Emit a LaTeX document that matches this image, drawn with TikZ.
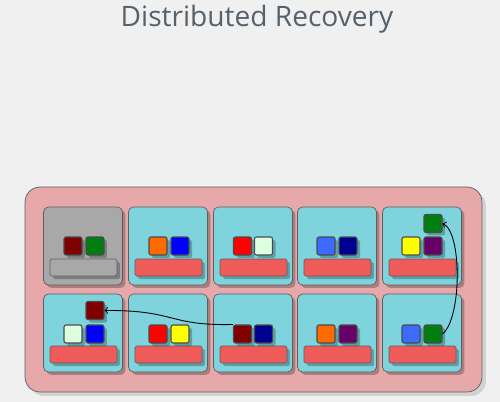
\documentclass[tikz,border=0pt]{standalone}
\usepackage{fontspec}
\setmainfont{Open Sans}
\usetikzlibrary{shadows}
\definecolor{pagebg}{HTML}{F0F0F0}
\definecolor{titlegray}{HTML}{56616B}
\definecolor{groupfill}{HTML}{E6A8A8}
\definecolor{cellfill}{HTML}{7FD3DC}
\definecolor{idlefill}{HTML}{A8A8A8}
\definecolor{barfill}{HTML}{EE5B58}
\definecolor{edgegray}{HTML}{5A5F63}
\definecolor{cDarkRed}{HTML}{800000}
\definecolor{cGreen}{HTML}{007F0E}
\definecolor{cOrange}{HTML}{FF6A00}
\definecolor{cBlue}{HTML}{0000FF}
\definecolor{cRed}{HTML}{FF0000}
\definecolor{cMint}{HTML}{DDFFDD}
\definecolor{cSky}{HTML}{3D6BFF}
\definecolor{cNavy}{HTML}{000090}
\definecolor{cYellow}{HTML}{FFFF00}
\definecolor{cPurple}{HTML}{660066}
\tikzset{
  softshadow/.style={drop shadow={shadow xshift=0.06cm, shadow yshift=-0.06cm, opacity=0.25, fill=black}},
  group/.style={draw=edgegray, fill=groupfill, rounded corners=0.3cm, minimum width=9.14cm, minimum height=4.1cm,
    drop shadow={shadow xshift=0.08cm, shadow yshift=-0.08cm, opacity=0.12, fill=black}},
  cell/.style={draw=edgegray, fill=cellfill, rounded corners=0.1cm, minimum width=1.58cm, minimum height=1.56cm, inner sep=0pt, softshadow},
  idle/.style={cell, fill=idlefill},
  bar/.style={draw=edgegray, fill=barfill, rounded corners=0.03cm, minimum width=1.34cm, minimum height=0.34cm, inner sep=0pt, softshadow},
  idlebar/.style={bar, fill=idlefill},
  sq/.style={draw=edgegray!80!black, fill=#1, rounded corners=0.04cm, minimum size=0.36cm, inner sep=0pt, line width=0.6pt, softshadow},
  move/.style={->, black, line width=0.5pt}
}
\begin{document}
\begin{tikzpicture}[x=0.02cm, y=-0.02cm]
  % page and title
  \fill[pagebg] (0,0) rectangle (500,402);
  \useasboundingbox (0,0) rectangle (500,402);
  \node[anchor=base, text=titlegray, font=\fontsize{16}{18}\selectfont] (title) at (257,27) {Distributed Recovery};
  % group
  \node[group] (grp) at (253.5,289.5) {};
  % first row of members
  \node[idle] (m1) at (83,246) {};
  \node[cell] (m2) at (168,246) {};
  \node[cell] (m3) at (253,246) {};
  \node[cell] (m4) at (337,246) {};
  \node[cell] (m5) at (422,246) {};
  % second row of members
  \node[cell] (m6) at (83,333) {};
  \node[cell] (m7) at (168,333) {};
  \node[cell] (m8) at (253,333) {};
  \node[cell] (m9) at (337,333) {};
  \node[cell] (m10) at (422,333) {};
  % bars
  \node[idlebar] (b1) at (83.5,267.5) {};
  \node[bar] (b2) at (168.5,267.5) {};
  \node[bar] (b3) at (253.5,267.5) {};
  \node[bar] (b4) at (337.5,267.5) {};
  \node[bar] (b5) at (422.5,267.5) {};
  \node[bar] (b6) at (83.5,354.5) {};
  \node[bar] (b7) at (168.5,354.5) {};
  \node[bar] (b8) at (253.5,354.5) {};
  \node[bar] (b9) at (337.5,354.5) {};
  \node[bar] (b10) at (422.5,354.5) {};
  % squares, first row
  \node[sq=cDarkRed] (s1a) at (73,246) {};
  \node[sq=cGreen] (s1b) at (95,246) {};
  \node[sq=cOrange] (s2a) at (158,246) {};
  \node[sq=cBlue] (s2b) at (180,246) {};
  \node[sq=cRed] (s3a) at (242.5,246) {};
  \node[sq=cMint] (s3b) at (263.5,246) {};
  \node[sq=cSky] (s4a) at (326,246) {};
  \node[sq=cNavy] (s4b) at (348,246) {};
  \node[sq=cYellow] (s5a) at (411,246) {};
  \node[sq=cPurple] (s5b) at (433,246) {};
  \node[sq=cGreen] (s5c) at (433,223.5) {};
  % squares, second row
  \node[sq=cMint] (s6a) at (73,334) {};
  \node[sq=cBlue] (s6b) at (95,334) {};
  \node[sq=cDarkRed] (s6c) at (95,310.5) {};
  \node[sq=cRed] (s7a) at (158,334) {};
  \node[sq=cYellow] (s7b) at (180,334) {};
  \node[sq=cDarkRed] (s8a) at (242.5,334) {};
  \node[sq=cNavy] (s8b) at (263.5,334) {};
  \node[sq=cOrange] (s9a) at (326,334) {};
  \node[sq=cPurple] (s9b) at (348,334) {};
  \node[sq=cSky] (s10a) at (411,334) {};
  \node[sq=cGreen] (s10b) at (433,334) {};
  % transfers
  \draw[move] (s10b.east) .. controls (462,318) and (462,232) .. (s5c.east);
  \draw[move] (s8a.north west) .. controls (168,326) and (176,310) .. (s6c.east);
\end{tikzpicture}
\end{document}
